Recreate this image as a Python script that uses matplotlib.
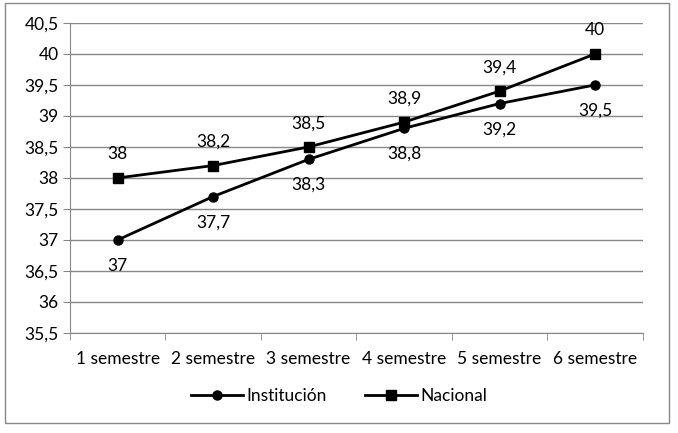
import matplotlib
matplotlib.use("Agg")
from matplotlib import pyplot as plt
from matplotlib.patches import Rectangle

semestres = ["1 semestre", "2 semestre", "3 semestre", "4 semestre", "5 semestre", "6 semestre"]
institucion = [37, 37.7, 38.3, 38.8, 39.2, 39.5]
nacional = [38, 38.2, 38.5, 38.9, 39.4, 40]
yticks = [35.5, 36, 36.5, 37, 37.5, 38, 38.5, 39, 39.5, 40, 40.5]

plt.rcParams['font.family'] = ['Lato', 'DejaVu Sans']
fs = 12.5

def coma(v):
    s = ("%g" % v).replace(".", ",")
    return s

fig = plt.figure(figsize=(6.78, 4.33), dpi=100)
ax = fig.add_axes([0.103, 0.231, 0.845, 0.716])

x = list(range(len(semestres)))
ax.plot(x, institucion, color='black', marker='o', markersize=6.5, linewidth=2, label='Institución')
ax.plot(x, nacional, color='black', marker='s', markersize=6.5, linewidth=2, label='Nacional')

for i, v in enumerate(institucion):
    ax.annotate(coma(v), (i, v), xytext=(0, -18.5), textcoords='offset points',
                ha='center', va='center', fontsize=fs)
for i, v in enumerate(nacional):
    ax.annotate(coma(v), (i, v), xytext=(0, 17), textcoords='offset points',
                ha='center', va='center', fontsize=fs)

ax.set_xlim(-0.5, len(semestres) - 0.5)
ax.set_ylim(35.5, 40.5)
ax.set_yticks(yticks)
ax.set_yticklabels([coma(v) for v in yticks], fontsize=fs)
ax.set_xticks(x)
ax.set_xticklabels(semestres, fontsize=fs)
ax.tick_params(axis='x', length=0, pad=13)
ax.set_xticks([i - 0.5 for i in range(len(semestres) + 1)], minor=True)
ax.tick_params(axis='x', which='minor', length=5, color='#888888')
ax.tick_params(axis='y', length=5, color='#888888', pad=3)
ax.grid(axis='y', color='#888888', linewidth=1)
ax.set_axisbelow(True)
for s in ['top', 'right']:
    ax.spines[s].set_visible(False)
for s in ['left', 'bottom']:
    ax.spines[s].set_color('#888888')

fig.legend(loc='center', bbox_to_anchor=(0.5, 0.085), ncol=2, frameon=False,
           fontsize=fs, handlelength=3, columnspacing=2.2, handletextpad=0.2)

fig.patches.append(Rectangle((0.008, 0.022), 0.978, 0.97, transform=fig.transFigure,
                             fill=False, edgecolor='#888888', linewidth=1))

fig.savefig("out.png", dpi=100)
